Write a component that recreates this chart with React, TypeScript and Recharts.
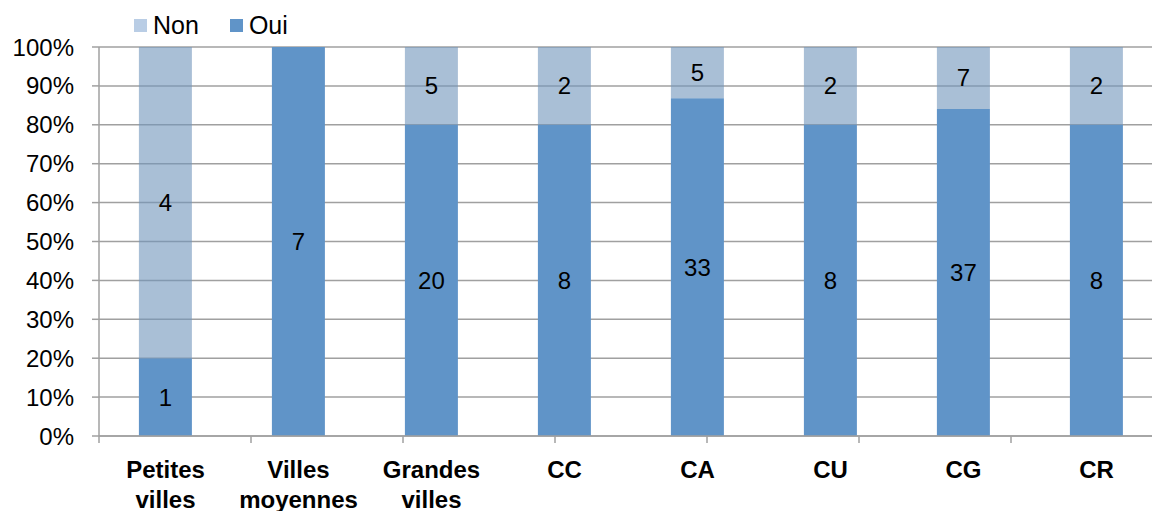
import { BarChart, Bar, XAxis, YAxis, CartesianGrid, LabelList, Legend } from 'recharts';

const categories = [
  'Petites villes',
  'Villes moyennes',
  'Grandes villes',
  'CC',
  'CA',
  'CU',
  'CG',
  'CR',
];
const oui = [1, 7, 20, 8, 33, 8, 37, 8];
const non = [4, 0, 5, 2, 5, 2, 7, 2];
const yTicks = [0, 0.1, 0.2, 0.3, 0.4, 0.5, 0.6, 0.7, 0.8, 0.9, 1];
const boundaryTicks = [0, 1, 2, 3, 4, 5, 6, 7, 8];

const legendItems = [
  { name: 'Non', color: '#B9CDE5' },
  { name: 'Oui', color: '#6094C8' },
];

const data = categories.map((name, i) => ({ name, oui: oui[i], non: non[i] }));

const FONT = '"Liberation Sans", Arial, sans-serif';
const AXIS = '#A0A0A0';

function CategoryTick({ x, y, payload }: any) {
  const words = String(payload.value).split(' ');
  return (
    <text x={x} y={y} textAnchor="middle" fontFamily={FONT} fontSize={24} fontWeight="bold" fill="#000">
      {words.map((w, i) => (
        <tspan key={i} x={x} dy={i === 0 ? 34 : 30}>
          {w}
        </tspan>
      ))}
    </text>
  );
}

function LegendContent() {
  return (
    <div style={{ display: 'flex', alignItems: 'center', fontFamily: FONT, fontSize: 25, color: '#000' }}>
      {legendItems.map((it, i) => (
        <div key={it.name} style={{ display: 'flex', alignItems: 'center', marginRight: i === 0 ? 31 : 0 }}>
          <span style={{ width: 13, height: 13, background: it.color, display: 'inline-block', marginRight: 6 }} />
          <span style={{ lineHeight: '26px' }}>{it.name}</span>
        </div>
      ))}
    </div>
  );
}

const hideZero = (v: any) => (v ? v : '');

export default function App() {
  return (
    <div style={{ position: 'fixed', top: 0, left: 0, width: 1152, height: 511, overflow: 'hidden', background: '#fff' }}>
      <BarChart
        width={1163}
        height={520}
        data={data}
        stackOffset="expand"
        barCategoryGap="30%"
        margin={{ top: 47, right: 0, bottom: 0, left: 0 }}
      >
        <CartesianGrid xAxisId="cat" vertical={false} stroke={AXIS} strokeWidth={1.5} />
        <XAxis
          xAxisId="bounds"
          type="number"
          domain={[0, 8]}
          ticks={boundaryTicks}
          allowDataOverflow
          tickFormatter={() => ''}
          tick={{ fontSize: 1 }}
          tickSize={7}
          tickMargin={0}
          height={8}
          stroke={AXIS}
          strokeWidth={1.5}
        />
        <XAxis
          xAxisId="cat"
          dataKey="name"
          height={76}
          tick={<CategoryTick />}
          tickLine={false}
          axisLine={false}
          tickSize={0}
          tickMargin={0}
          interval={0}
        />
        <YAxis
          width={99}
          domain={[0, 1]}
          ticks={yTicks}
          tickFormatter={(v) => `${Math.round(v * 100)}%`}
          tick={{ fill: '#000', fontSize: 24, fontFamily: FONT }}
          tickSize={7}
          tickMargin={18}
          stroke={AXIS}
          strokeWidth={1.5}
        />
        <Legend
          layout="horizontal"
          verticalAlign="middle"
          align="center"
          content={<LegendContent />}
          wrapperStyle={{ top: 12, left: 134, width: 'auto', height: 'auto' }}
        />
        <Bar xAxisId="cat" dataKey="oui" stackId="a" fill="#6094C8" isAnimationActive={false}>
          <LabelList dataKey="oui" position="center" formatter={hideZero} fill="#000" fontSize={24} fontFamily={FONT} />
        </Bar>
        <Bar xAxisId="cat" dataKey="non" stackId="a" fill="#7094BB" fillOpacity={0.6} isAnimationActive={false}>
          <LabelList dataKey="non" position="center" formatter={hideZero} fill="#000" fontSize={24} fontFamily={FONT} />
        </Bar>
      </BarChart>
    </div>
  );
}
